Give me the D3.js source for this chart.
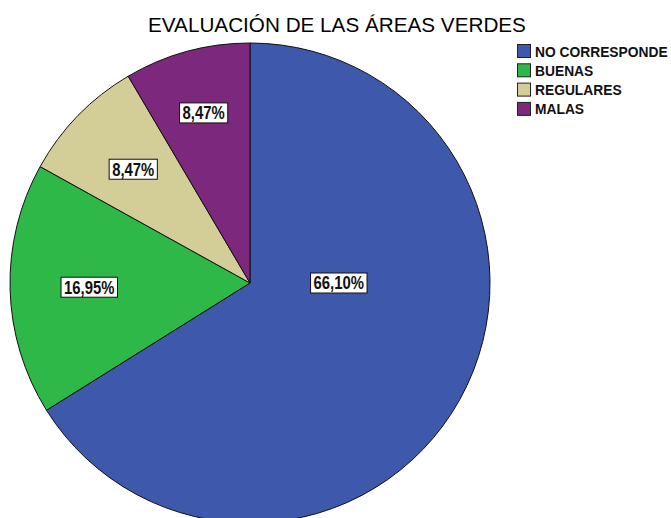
<!DOCTYPE html>
<html>
<head>
<meta charset="utf-8">
<script src="https://cdn.jsdelivr.net/npm/d3@7"></script>
<style>
  html, body { margin: 0; padding: 0; background: #fff; }
</style>
</head>
<body>
<div id="chart"></div>
<script>
const categories = ["NO CORRESPONDE", "BUENAS", "REGULARES", "MALAS"];
const percents = [66.10, 16.95, 8.47, 8.47];
const colors = ["#3e58ac", "#2eb848", "#d3ce97", "#7c287d"];
const chartTitle = "EVALUACIÓN DE LAS ÁREAS VERDES";

const width = 671, height = 518;
const cx = 250, cy = 283, radius = 240;

const svg = d3.select("#chart")
  .append("svg")
  .attr("width", width)
  .attr("height", height)
  .attr("viewBox", [0, 0, width, height]);

const data = categories.map((c, i) => ({name: c, value: percents[i], color: colors[i]}));

const pie = d3.pie()
  .value(d => d.value)
  .sort(null);

const arc = d3.arc()
  .innerRadius(0)
  .outerRadius(radius);

const g = svg.append("g")
  .attr("transform", `translate(${cx},${cy})`);

const arcs = pie(data);

g.selectAll("path.slice")
  .data(arcs)
  .join("path")
  .attr("class", "slice")
  .attr("d", arc)
  .attr("fill", d => d.data.color)
  .attr("stroke", "#111")
  .attr("stroke-width", 1);

// label position: big slice gets its label pulled toward the middle,
// thin slices near the top get pushed a bit outward
function labelPos(d) {
  if (d.endAngle - d.startAngle > Math.PI) {
    const r = radius * 0.37;
    const a = Math.PI / 2;
    return [r * Math.sin(a), -r * Math.cos(a)];
  }
  const mid = (d.startAngle + d.endAngle) / 2;
  const up = Math.pow(Math.max(0, Math.cos(mid)), 6);
  const r = radius * (0.67 + 0.08 * up);
  return [r * Math.sin(mid), -r * Math.cos(mid)];
}

const fmt = v => v.toFixed(2).replace(".", ",") + "%";

const squeeze = 0.85;

const labels = g.selectAll("g.label")
  .data(arcs)
  .join("g")
  .attr("class", "label")
  .attr("transform", d => `translate(${labelPos(d)})`);

labels.append("text")
  .attr("text-anchor", "middle")
  .attr("dy", "0.36em")
  .attr("transform", `scale(${squeeze},1)`)
  .style("font-family", "'Liberation Sans', Arial, sans-serif")
  .style("font-weight", "bold")
  .style("font-size", "17.5px")
  .attr("fill", "#111")
  .text(d => fmt(d.data.value));

labels.each(function () {
  const gg = d3.select(this);
  const bb = gg.select("text").node().getBBox();
  const w = bb.width * squeeze;
  gg.insert("rect", "text")
    .attr("x", -w / 2 - 3)
    .attr("y", -10)
    .attr("width", w + 6)
    .attr("height", 20)
    .attr("fill", "#fff")
    .attr("stroke", "#111")
    .attr("stroke-width", 1);
});

svg.append("text")
  .attr("x", 337)
  .attr("y", 32)
  .attr("text-anchor", "middle")
  .style("font-family", "'Liberation Sans', Arial, sans-serif")
  .style("font-size", "20.7px")
  .attr("fill", "#000")
  .text(chartTitle);

const legend = svg.append("g")
  .attr("transform", "translate(517,44)");

const rows = legend.selectAll("g")
  .data(data)
  .join("g")
  .attr("transform", (d, i) => `translate(0,${i * 19.3})`);

rows.append("rect")
  .attr("x", 0.5)
  .attr("y", 0.5)
  .attr("width", 13)
  .attr("height", 13)
  .attr("fill", d => d.color)
  .attr("stroke", "#222")
  .attr("stroke-width", 1);

rows.append("text")
  .attr("x", 18)
  .attr("y", 12.5)
  .style("font-family", "'Liberation Sans', Arial, sans-serif")
  .style("font-weight", "bold")
  .style("font-size", "13.8px")
  .attr("fill", "#111")
  .text(d => d.name);
</script>
</body>
</html>
